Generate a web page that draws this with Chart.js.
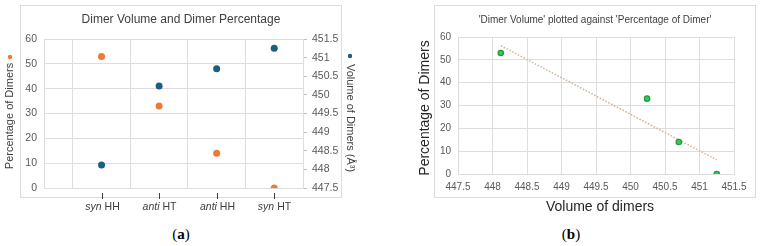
<!DOCTYPE html>
<html>
<head>
<meta charset="utf-8">
<script src="https://cdn.jsdelivr.net/npm/chart.js@4"></script>
<style>
  body { margin: 0; background: #fff; width: 762px; height: 246px; position: relative; overflow: hidden; }
  canvas { position: absolute; top: 0; }
  #chartA { left: 0; }
  #chartB { left: 381px; }
  .cap { position: absolute; top: 226px; font-family: "Liberation Serif", serif; font-size: 15px; color: #000; transform: translateX(-50%); }
  .cap b { font-weight: bold; }
</style>
</head>
<body>
<canvas id="chartA" width="381" height="225"></canvas>
<canvas id="chartB" width="381" height="225"></canvas>
<div class="cap" style="left:181px">(<b>a</b>)</div>
<div class="cap" style="left:571px">(<b>b</b>)</div>
<script>
// data
const categories = ['syn HH', 'anti HT', 'anti HH', 'syn HT'];
const percentDimers = [53, 33, 14, 0];
const volumeDimers = [448.12, 450.24, 450.70, 451.25];
// trend line ends, chart (b)
const trendVolume = [448.12, 451.25];
const trendPercent = [56.2, 6.2];

const orange = '#EE7B35';
const blue = '#1B5E80';
const gridColor = '#DDDDDD';
const tickColor = '#595959';

Chart.defaults.font.family = '"Liberation Sans", Arial, sans-serif';
Chart.defaults.color = tickColor;

// excel style: 448 not 448.0
const plainNum = v => String(Number(v.toFixed(2)));

function drawRotated(ctx, text, x, y, angle) {
    ctx.save();
    ctx.translate(x, y);
    ctx.rotate(angle);
    ctx.textAlign = 'center';
    ctx.textBaseline = 'middle';
    ctx.fillText(text, 0, 0);
    ctx.restore();
}

function dot(ctx, x, y, r, color) {
    ctx.beginPath();
    ctx.arc(x, y, r, 0, Math.PI * 2);
    ctx.fillStyle = color;
    ctx.fill();
}

const decorA = {
    id: 'decorA',
    beforeDraw(chart) {
        const ctx = chart.ctx;
        ctx.save();
        ctx.strokeStyle = gridColor;
        ctx.lineWidth = 1;
        ctx.strokeRect(20.5, 5.5, 321, 192);
        ctx.restore();
    },
    afterDraw(chart) {
        const ctx = chart.ctx;
        const xs = chart.scales.x;
        const area = chart.chartArea;
        ctx.save();
        ctx.fillStyle = '#404040';
        ctx.font = '12px "Liberation Sans", Arial, sans-serif';
        ctx.textAlign = 'center';
        ctx.textBaseline = 'middle';
        ctx.fillText('Dimer Volume and Dimer Percentage', 181, 20);

        ctx.font = '11px "Liberation Sans", Arial, sans-serif';
        ctx.fillStyle = '#404040';
        drawRotated(ctx, 'Percentage of Dimers', 10, 116, -Math.PI / 2);
        dot(ctx, 10, 57, 2.2, orange);
        ctx.fillStyle = '#404040';
        drawRotated(ctx, 'Volume of Dimers (Å³)', 350, 118, Math.PI / 2);
        dot(ctx, 350, 56, 2.2, blue);

        // category ticks and labels
        categories.forEach((c, i) => {
            const x = Math.round(xs.getPixelForValue(i + 1)) + 0.5;
            ctx.strokeStyle = '#404040';
            ctx.lineWidth = 1;
            ctx.beginPath();
            ctx.moveTo(x, area.bottom + 5);
            ctx.lineTo(x, area.bottom + 11);
            ctx.stroke();
            const parts = c.split(' ');
            const it = parts[0];
            const rest = ' ' + parts.slice(1).join(' ');
            ctx.font = 'italic 10.5px "Liberation Sans", Arial, sans-serif';
            const w1 = ctx.measureText(it).width;
            ctx.font = '10.5px "Liberation Sans", Arial, sans-serif';
            const w2 = ctx.measureText(rest).width;
            const start = x - (w1 + w2) / 2;
            ctx.fillStyle = '#404040';
            ctx.textAlign = 'left';
            ctx.font = 'italic 10.5px "Liberation Sans", Arial, sans-serif';
            ctx.fillText(it, start, area.bottom + 19);
            ctx.font = '10.5px "Liberation Sans", Arial, sans-serif';
            ctx.fillText(rest, start + w1, area.bottom + 19);
        });
        ctx.restore();
    }
};

new Chart(document.getElementById('chartA'), {
    type: 'scatter',
    data: {
        datasets: [{
            label: 'Percentage of Dimers',
            data: percentDimers.map((v, i) => ({ x: i + 1, y: v })),
            backgroundColor: orange,
            borderWidth: 0,
            pointRadius: 3.5,
            yAxisID: 'y'
        }, {
            label: 'Volume of Dimers',
            data: volumeDimers.map((v, i) => ({ x: i + 1, y: v })),
            backgroundColor: blue,
            borderWidth: 0,
            pointRadius: 3.5,
            yAxisID: 'y1'
        }]
    },
    options: {
        responsive: false,
        animation: false,
        layout: { padding: { top: 39, bottom: 37, left: 0, right: 0 } },
        plugins: { legend: { display: false }, tooltip: { enabled: false } },
        scales: {
            x: {
                type: 'linear',
                min: 0,
                max: 4.5,
                afterBuildTicks: s => { s.ticks = [0, 0.5, 1.5, 2.5, 3.5, 4.5].map(v => ({ value: v })); },
                ticks: { display: false },
                grid: { color: gridColor, drawTicks: false },
                border: { color: gridColor }
            },
            y: {
                position: 'left',
                min: 0,
                max: 60,
                ticks: { stepSize: 10, font: { size: 10.5 }, padding: 7, color: tickColor },
                grid: { color: gridColor, drawTicks: false },
                border: { color: gridColor },
                afterFit: s => { s.width = 44; }
            },
            y1: {
                position: 'right',
                min: 447.5,
                max: 451.5,
                ticks: { stepSize: 0.5, font: { size: 10.5 }, padding: 5, color: tickColor, callback: plainNum },
                grid: { drawOnChartArea: false, color: '#BFBFBF', tickLength: 4 },
                border: { color: gridColor },
                afterFit: s => { s.width = 78; }
            }
        }
    },
    plugins: [decorA]
});

const decorB = {
    id: 'decorB',
    beforeDraw(chart) {
        const ctx = chart.ctx;
        ctx.save();
        ctx.strokeStyle = gridColor;
        ctx.lineWidth = 1;
        ctx.strokeRect(53.5, 5.5, 321, 192);
        ctx.restore();
    },
    afterDraw(chart) {
        const ctx = chart.ctx;
        ctx.save();
        ctx.fillStyle = '#404040';
        ctx.font = '10px "Liberation Sans", Arial, sans-serif';
        ctx.textAlign = 'center';
        ctx.textBaseline = 'middle';
        ctx.fillText("'Dimer Volume' plotted against 'Percentage of Dimer'", 214, 20);
        ctx.font = '14px "Liberation Sans", Arial, sans-serif';
        ctx.fillStyle = '#262626';
        ctx.fillText('Volume of dimers', 219, 207);
        drawRotated(ctx, 'Percentage of Dimers', 44, 108, -Math.PI / 2);
        ctx.restore();
    }
};

new Chart(document.getElementById('chartB'), {
    type: 'scatter',
    data: {
        datasets: [{
            label: 'Percentage of Dimers',
            data: volumeDimers.map((v, i) => ({ x: v, y: percentDimers[i] })),
            backgroundColor: '#3CC65A',
            borderColor: '#1E9A3C',
            borderWidth: 1.2,
            pointRadius: 2.7
        }, {
            label: 'Trend',
            data: trendVolume.map((v, i) => ({ x: v, y: trendPercent[i] })),
            showLine: true,
            borderColor: '#D6B898',
            borderWidth: 1.6,
            borderDash: [1.6, 1.6],
            pointRadius: 0
        }]
    },
    options: {
        responsive: false,
        animation: false,
        layout: { padding: { top: 37, bottom: 0, left: 0, right: 28 } },
        plugins: { legend: { display: false }, tooltip: { enabled: false } },
        scales: {
            x: {
                min: 447.5,
                max: 451.5,
                ticks: { stepSize: 0.5, font: { size: 10 }, padding: 7, color: tickColor, callback: plainNum },
                grid: { color: gridColor, drawTicks: false },
                border: { color: gridColor },
                afterFit: s => { s.height = 51; }
            },
            y: {
                min: 0,
                max: 60,
                ticks: { stepSize: 10, font: { size: 10 }, padding: 7, color: tickColor },
                grid: { color: gridColor, drawTicks: false },
                border: { color: gridColor },
                afterFit: s => { s.width = 77; }
            }
        }
    },
    plugins: [decorB]
});
</script>
</body>
</html>
